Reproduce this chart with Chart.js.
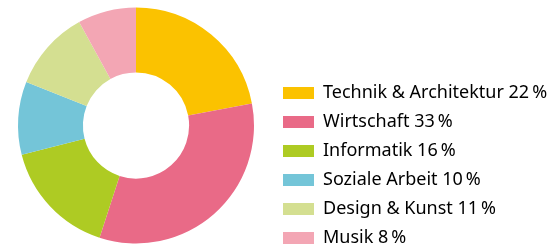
<!DOCTYPE html>
<html>
<head>
<meta charset="utf-8">
<script src="https://cdn.jsdelivr.net/npm/chart.js@4/dist/chart.umd.min.js"></script>
<style>
  html, body { margin: 0; padding: 0; background: #ffffff; }
  #wrap { width: 557px; height: 251px; position: relative; }
</style>
</head>
<body>
<div id="wrap"><canvas id="chart"></canvas></div>
<script>
// Data
const categories = ["Technik & Architektur", "Wirtschaft", "Informatik", "Soziale Arbeit", "Design & Kunst", "Musik"];
const shares = [22, 33, 16, 10, 11, 8];
const sliceColors = ["#FBC200", "#E96A87", "#AECB23", "#74C5D8", "#D4DF91", "#F3A6B4"];

const ctx = document.getElementById("chart").getContext("2d");
new Chart(ctx, {
  type: "doughnut",
  data: {
    labels: categories,
    datasets: [{
      data: shares,
      backgroundColor: sliceColors,
      borderWidth: 0,
      radius: 118,
    }],
  },
  options: {
    responsive: true,
    maintainAspectRatio: false,
    animation: false,
    cutout: "45%",
    // negative padding: the legend column sits low, the ring keeps its centre
    layout: {
      padding: { top: -7, bottom: -7, left: -11, right: 2 },
    },
    plugins: {
      tooltip: { enabled: false },
      legend: {
        position: "right",
        align: "end",
        labels: {
          boxWidth: 31,
          boxHeight: 12,
          padding: 11,
          color: "#3a3a3a",
          font: { family: "'Noto Sans', 'Open Sans', sans-serif", size: 18 },
          generateLabels(chart) {
            return categories.map((cat, i) => ({
              text: `${cat} ${shares[i]}\u202F%`,
              fillStyle: sliceColors[i],
              strokeStyle: sliceColors[i],
              lineWidth: 0,
              index: i,
            }));
          },
        },
      },
    },
  },
});
</script>
</body>
</html>
